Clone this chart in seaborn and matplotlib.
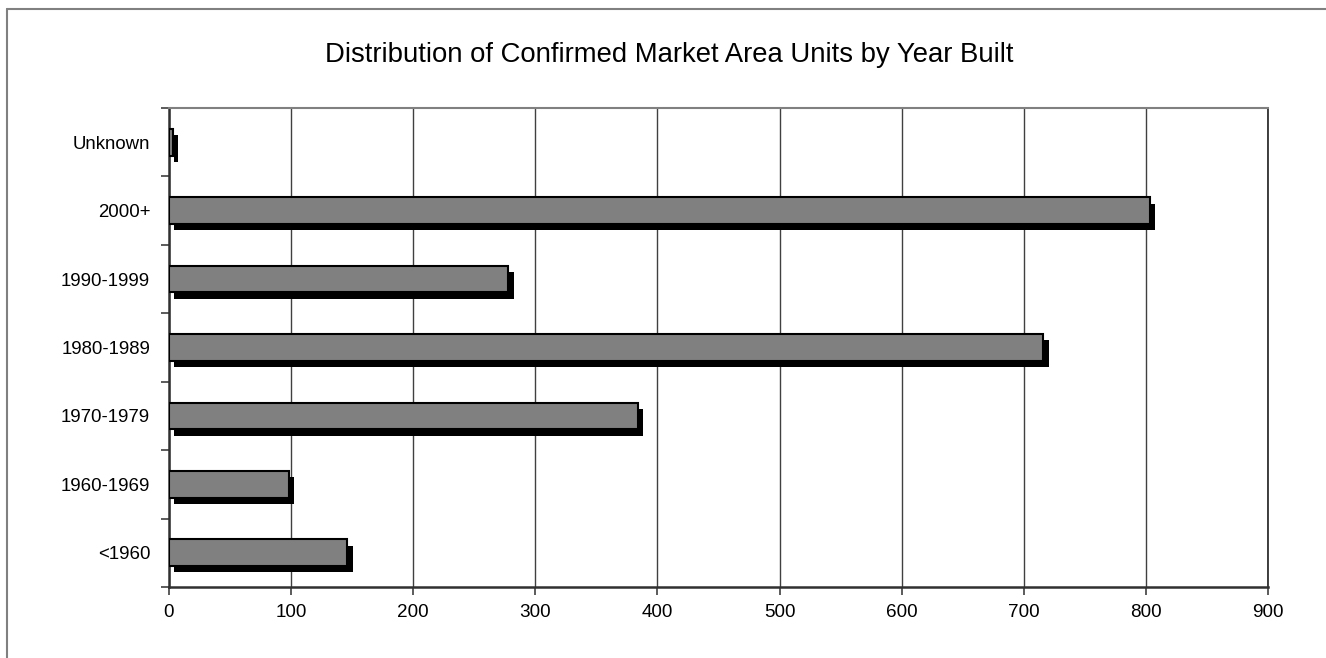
import matplotlib
matplotlib.use("Agg")
import matplotlib.pyplot as plt
import matplotlib.patheffects as pe
from matplotlib.lines import Line2D
import seaborn as sns
import pandas as pd

# values
year_built = ['Unknown', '2000+', '1990-1999', '1980-1989', '1970-1979', '1960-1969', '<1960']
units = [3, 803, 278, 716, 384, 98, 146]
x_ticks = [0, 100, 200, 300, 400, 500, 600, 700, 800, 900]

df = pd.DataFrame({'year_built': year_built, 'units': units})

sns.set_theme(style="white")
plt.rcParams['font.family'] = ['Liberation Sans', 'DejaVu Sans']

fig = plt.figure(figsize=(13.26, 6.58), dpi=100)
ax = fig.add_axes([169 / 1326, 1 - 587 / 658, 1099 / 1326, 479 / 658])

sns.barplot(data=df, x='units', y='year_built', order=year_built, orient='h',
            color='#808080', saturation=1, edgecolor='black', linewidth=1.5,
            width=0.39, ax=ax, zorder=3)

# drop shadow under each bar
for bar in ax.patches:
    bar.set_path_effects([pe.SimplePatchShadow(offset=(3.8, -4.5), shadow_rgbFace='black', alpha=1.0),
                          pe.Normal()])

ax.set_xlim(0, 900)
ax.set_ylim(len(year_built) - 0.5, -0.5)
ax.set_xticks(x_ticks)
ax.set_xlabel('')
ax.set_ylabel('')

# vertical gridlines
ax.grid(axis='x', color='#404040', linewidth=1.0, zorder=0)
ax.set_axisbelow(True)

# category ticks sit between the bars
ax.set_yticks([i + 0.5 for i in range(-1, len(year_built))], minor=True)
ax.tick_params(axis='y', which='major', length=0, pad=13.5, labelsize=13.4, colors='black')
ax.tick_params(axis='y', which='minor', left=True, length=6, width=1.2, color='#404040')
ax.tick_params(axis='x', which='major', bottom=True, length=6, width=1.2, color='#404040',
               pad=6.5, labelsize=13.6, labelcolor='black')

ax.spines['left'].set_color('#303030')
ax.spines['left'].set_linewidth(1.8)
ax.spines['bottom'].set_color('#303030')
ax.spines['bottom'].set_linewidth(1.8)
ax.spines['top'].set_color('#808080')
ax.spines['top'].set_linewidth(1.5)
ax.spines['right'].set_color('#202020')
ax.spines['right'].set_linewidth(1.2)

fig.text(0.505, 1 - 61.5 / 658, 'Distribution of Confirmed Market Area Units by Year Built',
         ha='center', va='baseline', fontsize=19.8, color='black')

# outer chart frame, cropped on the right and bottom
fig.add_artist(Line2D([7 / 1326, 7 / 1326], [0, 1 - 9 / 658], transform=fig.transFigure,
                      color='#808080', linewidth=1.5))
fig.add_artist(Line2D([7 / 1326, 1], [1 - 9 / 658, 1 - 9 / 658], transform=fig.transFigure,
                      color='#808080', linewidth=1.5))

fig.savefig('out.png', dpi=100)
